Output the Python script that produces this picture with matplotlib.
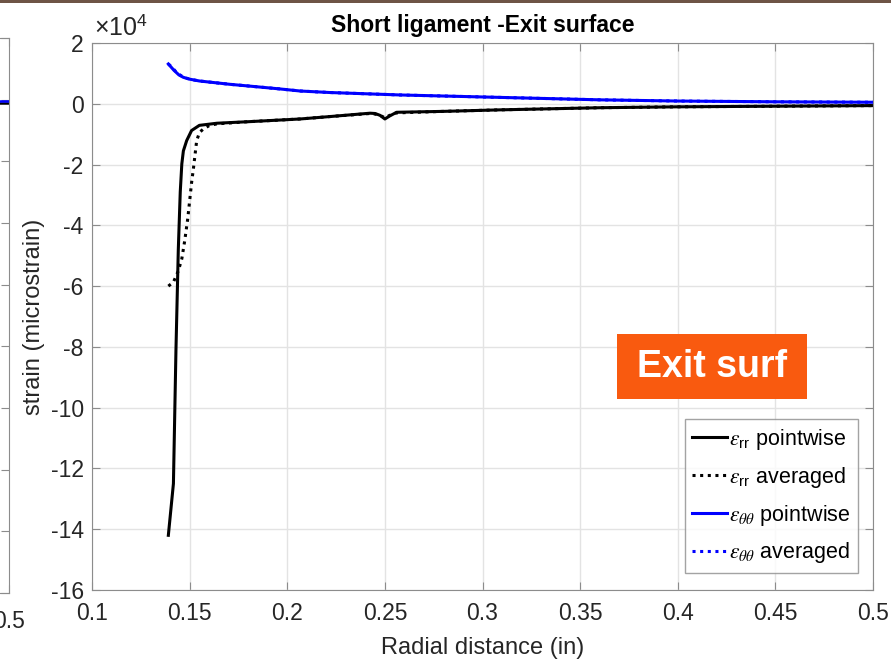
import matplotlib
matplotlib.use("Agg")
import matplotlib.pyplot as plt
from matplotlib.patches import Rectangle
import numpy as np

plt.rcParams['font.family'] = ['Liberation Sans', 'DejaVu Sans']
plt.rcParams['axes.unicode_minus'] = False
plt.rcParams['mathtext.fontset'] = 'custom'
plt.rcParams['mathtext.rm'] = 'Liberation Sans'
plt.rcParams['mathtext.sf'] = 'Liberation Sans'
plt.rcParams['mathtext.it'] = 'STIXGeneral:italic'

# ---- data (strain in units of 1e4 microstrain) ----
x_rr_point = [0.1391, 0.1417, 0.1430, 0.1442, 0.1452, 0.1460, 0.1468, 0.1485, 0.1510, 0.1550,
              0.1640, 0.1800, 0.2066, 0.2220, 0.2424, 0.2450, 0.2475, 0.2500, 0.2525, 0.2560,
              0.2800, 0.3090, 0.3600, 0.4000, 0.4500, 0.5000]
y_rr_point = [-14.2, -12.5, -8.1, -4.8, -2.9, -1.98, -1.55, -1.21, -0.88, -0.71,
              -0.64, -0.59, -0.50, -0.42, -0.31, -0.32, -0.38, -0.50, -0.40, -0.28,
              -0.25, -0.20, -0.13, -0.10, -0.08, -0.06]

x_rr_avg = [0.1391, 0.1417, 0.1442, 0.1460, 0.1475, 0.1490, 0.1500, 0.1510, 0.1520, 0.1536,
            0.1550, 0.1570, 0.1600, 0.1640, 0.1800, 0.2066, 0.2220, 0.2424, 0.2450, 0.2475,
            0.2500, 0.2525, 0.2560, 0.2800, 0.3090, 0.3600, 0.4000, 0.4500, 0.5000]
y_rr_avg = [-6.0, -5.87, -5.5, -5.1, -4.5, -3.8, -3.2, -2.6, -2.1, -1.22,
            -0.95, -0.83, -0.72, -0.66, -0.59, -0.50, -0.42, -0.32, -0.34, -0.38,
            -0.46, -0.38, -0.30, -0.25, -0.20, -0.13, -0.10, -0.08, -0.06]

x_tt_point = [0.1391, 0.1420, 0.1445, 0.1468, 0.1500, 0.1550, 0.1650, 0.1707, 0.1810, 0.1960,
              0.2066, 0.2220, 0.2578, 0.3090, 0.3600, 0.4000, 0.4500, 0.5000]
y_tt_point = [1.31, 1.10, 0.95, 0.87, 0.81, 0.75, 0.68, 0.64, 0.58, 0.49,
              0.42, 0.37, 0.29, 0.21, 0.13, 0.09, 0.065, 0.05]

x_tt_avg = [0.1391, 0.1410, 0.1433, 0.1455, 0.1475, 0.1500, 0.1550, 0.1650, 0.1707, 0.1810,
            0.1960, 0.2066, 0.2220, 0.2578, 0.3090, 0.3600, 0.4000, 0.4500, 0.5000]
y_tt_avg = [1.31, 1.20, 1.03, 0.93, 0.86, 0.81, 0.75, 0.68, 0.64, 0.58,
            0.49, 0.42, 0.37, 0.29, 0.21, 0.13, 0.09, 0.065, 0.05]

x_ticks = [0.1, 0.15, 0.2, 0.25, 0.3, 0.35, 0.4, 0.45, 0.5]
x_ticklabels = ['0.1', '0.15', '0.2', '0.25', '0.3', '0.35', '0.4', '0.45', '0.5']
y_ticks = [-16, -14, -12, -10, -8, -6, -4, -2, 0, 2]
y_ticklabels = [str(v) for v in y_ticks]

labels = [r'$\epsilon_{\mathrm{rr}}$ pointwise', r'$\epsilon_{\mathrm{rr}}$ averaged',
          r'$\epsilon_{\theta\theta}$ pointwise', r'$\epsilon_{\theta\theta}$ averaged']

W, H = 891, 665
fig = plt.figure(figsize=(W / 100, H / 100), dpi=100)

def fx(px):
    return px / W

def fy(py):
    return 1 - py / H

spine_col = '#8c8c8c'
grid_col = '#e3e3e3'
txt_col = '#262626'
tick_fs = 16.5

# ---- partial left plot (cropped) ----
axl = fig.add_axes([fx(-300), fy(593), fx(309), fy(38) - fy(593)])
axl.set_xlim(0.1, 0.5)
axl.set_ylim(-16, 2)
axl.plot([0.1, 0.5], [-0.12, -0.12], color='k', lw=1.8)
axl.plot([0.1, 0.5], [-0.05, -0.05], color='blue', lw=1.8)
axl.set_xticks([0.5])
axl.set_xticklabels(['0.5'], fontsize=tick_fs, color=txt_col)
axl.set_yticks(y_ticks)
axl.set_yticklabels([])
axl.tick_params(direction='in', right=True, top=True, length=6, color=spine_col, pad=12)
for s in axl.spines.values():
    s.set_color(spine_col)

# ---- main axes ----
ax = fig.add_axes([fx(92), fy(590), fx(873) - fx(92), fy(43) - fy(590)])
ax.plot(x_rr_point, y_rr_point, color='k', lw=2.2, label=labels[0])
ax.plot(x_rr_avg, y_rr_avg, color='k', lw=2.2, ls=(0, (1, 1.5)), label=labels[1])
ax.plot(x_tt_point, y_tt_point, color='blue', lw=2.2, label=labels[2])
ax.plot(x_tt_avg, y_tt_avg, color='blue', lw=2.2, ls=(0, (1, 1.5)), label=labels[3])

ax.set_xlim(0.1, 0.5)
ax.set_ylim(-16, 2)
ax.set_xticks(x_ticks)
ax.set_xticklabels(x_ticklabels, fontsize=tick_fs, color=txt_col)
ax.set_yticks(y_ticks)
ax.set_yticklabels(y_ticklabels, fontsize=tick_fs, color=txt_col)
ax.tick_params(axis='x', pad=9)
ax.tick_params(axis='y', pad=6)
ax.tick_params(direction='in', right=True, top=True, length=6, color=spine_col)
ax.grid(True, color=grid_col, lw=1.0)
ax.set_axisbelow(True)
for s in ax.spines.values():
    s.set_color(spine_col)

ax.set_title('Short ligament -Exit surface', fontsize=16.5, fontweight='bold', pad=8)
ax.set_xlabel('Radial distance (in)', fontsize=17, color=txt_col, labelpad=8)
ax.set_ylabel('strain (microstrain)', fontsize=17, color=txt_col, labelpad=4)

fig.text(fx(94), fy(36), r'$\times$10$^4$', fontsize=18, color=txt_col, ha='left', va='baseline')

leg = ax.legend(loc='lower right', bbox_to_anchor=(fx(858), fy(573)), bbox_transform=fig.transFigure,
                fontsize=15.5, frameon=True, fancybox=False, handlelength=1.6, handletextpad=0.1,
                borderpad=0.35, labelspacing=0.6, borderaxespad=0)
leg.get_frame().set_edgecolor(spine_col)
leg.get_frame().set_linewidth(1.0)

# ---- orange "Exit surf" label ----
fig.patches.append(Rectangle((fx(617), fy(399)), fx(807) - fx(617), fy(334) - fy(399),
                             transform=fig.transFigure, facecolor='#f95a0f', edgecolor='none', zorder=5))
fig.text(fx(712), fy(367), 'Exit surf', fontsize=27, fontweight='bold', color='white',
         ha='center', va='center', zorder=6)

# ---- top brown bar ----
fig.patches.append(Rectangle((0, fy(3)), 1, fy(0) - fy(3), transform=fig.transFigure,
                             facecolor='#6e5446', edgecolor='none', zorder=5))

fig.savefig('out.png', dpi=100)
